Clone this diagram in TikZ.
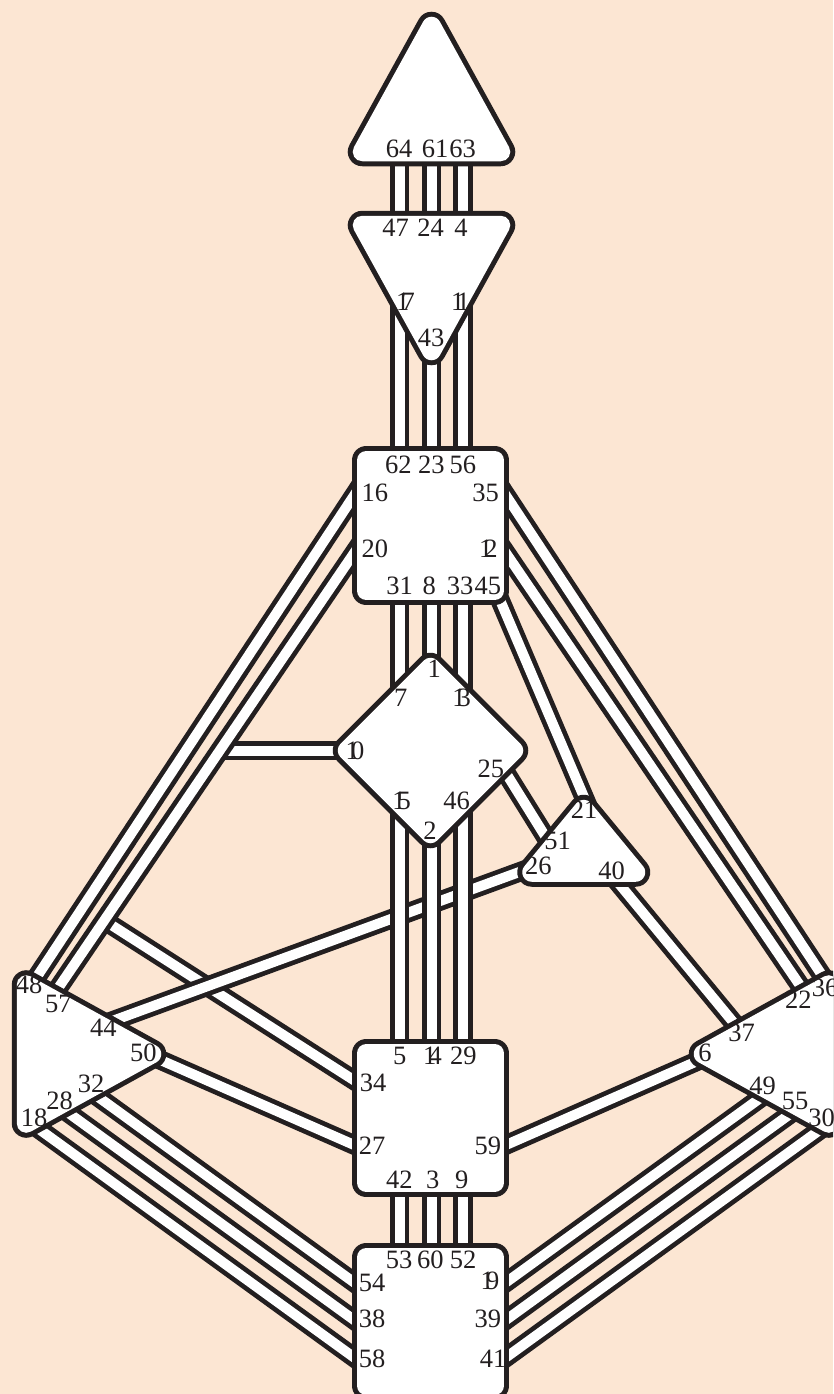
\documentclass[tikz,border=0pt]{standalone}
\usepackage{fontspec}
\setmainfont{Liberation Serif}
\definecolor{bg}{HTML}{FCE6D3}
\definecolor{ink}{HTML}{231F20}
\newcommand\gk{\kern-0.3em}
\newcommand\hdcenter[1]{\path[ctrout] #1; \path[ctrin] #1;}
\begin{document}
\begin{tikzpicture}[x=1pt,y=-1pt,
  ctrout/.style={fill=ink, draw=ink, line width=29pt, line join=round},
  ctrin/.style={fill=white, draw=white, line width=19pt, line join=round},
  chan/.style={draw=ink, line width=4.75pt, double=white, double distance=10pt},
  gate/.style={inner sep=0pt, text=ink, font=\fontsize{26.5}{26.5}\selectfont}]
\useasboundingbox (0,0) rectangle (833,1394);
\fill[bg] (0,0) rectangle (833,1394);
\clip (0,0) rectangle (833,1394);

% ---------- channel end points ----------
\coordinate (p64) at (399.5,140);  \coordinate (p47) at (399.5,235);
\coordinate (p61) at (431.5,140);  \coordinate (p24) at (431.5,235);
\coordinate (p63) at (463,140);    \coordinate (p4)  at (463,235);
\coordinate (p17) at (399.5,290);  \coordinate (p62) at (399.5,470);
\coordinate (p43) at (431.5,340);  \coordinate (p23) at (431.5,470);
\coordinate (p11) at (463,290);    \coordinate (p56) at (463,470);
\coordinate (p31) at (399.5,580);  \coordinate (p7)  at (399.5,715);
\coordinate (p8)  at (431.5,580);  \coordinate (p1)  at (431.5,700);
\coordinate (p33) at (463,580);    \coordinate (p13) at (463,715);
\coordinate (p15) at (399.5,785);  \coordinate (p5)  at (399.5,1060);
\coordinate (p2)  at (431.5,800);  \coordinate (p14) at (431.5,1060);
\coordinate (p46) at (463,785);    \coordinate (p29) at (463,1060);
\coordinate (p42) at (399.5,1175); \coordinate (p53) at (399.5,1265);
\coordinate (p3)  at (431.5,1175); \coordinate (p60) at (431.5,1265);
\coordinate (p9)  at (463,1175);   \coordinate (p52) at (463,1265);

\coordinate (p16) at (368.5,473.5);  \coordinate (p48) at (24.25,996);
\coordinate (p20) at (368.9,531.2);  \coordinate (p57) at (44,1009);
\coordinate (p10) at (360,750.5);    \coordinate (j10) at (219.7,750.5);
\coordinate (p34) at (370,1090.5);   \coordinate (j34) at (104.2,920.4);
\coordinate (p26) at (548,861.5);    \coordinate (p44) at (85,1031);
\coordinate (p50) at (140,1051);     \coordinate (p27) at (372,1152.8);
\coordinate (p32) at (75,1080.2);    \coordinate (p54) at (370,1294);
\coordinate (p28) at (50,1099.55);   \coordinate (p38) at (370,1331.55);
\coordinate (p18) at (28,1121.1);    \coordinate (p58) at (370,1369);

\coordinate (p35) at (491.5,473.5);  \coordinate (p36) at (833,992);
\coordinate (p12) at (491.1,531.2);  \coordinate (p22) at (813.3,1005);
\coordinate (p25) at (490.4,748);    \coordinate (p51) at (560,860);
\coordinate (p45) at (491.5,580);    \coordinate (p21) at (595.9,825);
\coordinate (p40) at (599.5,860);    \coordinate (p37) at (752,1045);
\coordinate (p59) at (490,1152);     \coordinate (p6)  at (715,1053.3);
\coordinate (p19) at (490,1294);     \coordinate (p49) at (783,1081.6);
\coordinate (p39) at (490,1331.55);  \coordinate (p55) at (808,1101);
\coordinate (p41) at (490,1369);     \coordinate (p30) at (832,1121.1);

% ---------- channels ----------
\draw[chan] (p10) -- (j10);
\draw[chan] (p34) -- (j34);
\draw[chan] (p26) -- (p44);
\draw[chan] (p16) -- (p48);
\draw[chan] (p20) -- (p57);
\draw[chan] (p50) -- (p27);
\draw[chan] (p32) -- (p54);
\draw[chan] (p28) -- (p38);
\draw[chan] (p18) -- (p58);

\draw[chan] (p64) -- (p47);
\draw[chan] (p61) -- (p24);
\draw[chan] (p63) -- (p4);
\draw[chan] (p17) -- (p62);
\draw[chan] (p43) -- (p23);
\draw[chan] (p11) -- (p56);
\draw[chan] (p31) -- (p7);
\draw[chan] (p8) -- (p1);
\draw[chan] (p33) -- (p13);
\draw[chan] (p15) -- (p5);
\draw[chan] (p2) -- (p14);
\draw[chan] (p46) -- (p29);
\draw[chan] (p42) -- (p53);
\draw[chan] (p3) -- (p60);
\draw[chan] (p9) -- (p52);

\draw[chan] (p35) -- (p36);
\draw[chan] (p12) -- (p22);
\draw[chan] (p25) -- (p51);
\draw[chan] (p45) -- (p21);
\draw[chan] (p40) -- (p37);
\draw[chan] (p59) -- (p6);
\draw[chan] (p19) -- (p49);
\draw[chan] (p39) -- (p55);
\draw[chan] (p41) -- (p30);

% ---------- centres ----------
\hdcenter{(431.5,26.25) -- (362.25,151.75) -- (500.75,151.75) -- cycle}
\hdcenter{(362.25,225.25) -- (500.75,225.25) -- (431.5,350.75) -- cycle}
\hdcenter{(366.25,460.25) rectangle (494.75,590.75)}
\hdcenter{(430.5,667.25) -- (513.75,750.5) -- (430.5,833.75) -- (347.25,750.5) -- cycle}
\hdcenter{(583.75,809.25) -- (635.75,872.25) -- (531.75,872.25) -- cycle}
\hdcenter{(26.25,984.75) -- (151.75,1054) -- (26.25,1123.25) -- cycle}
\hdcenter{(828.75,984.75) -- (703.25,1054) -- (828.75,1123.25) -- cycle}
\hdcenter{(366.25,1053.25) rectangle (494.75,1182.75)}
\hdcenter{(366.25,1257.25) rectangle (494.75,1385.75)}

% ---------- gate labels ----------
\node[gate] (l64) at (399,149) {64};
\node[gate] (l61) at (435,149) {61};
\node[gate] (l63) at (462.7,149) {63};
\node[gate] (l47) at (395.5,228) {47};
\node[gate] (l24) at (430.5,228) {24};
\node[gate] (l4)  at (461,228) {4};
\node[gate] (l17) at (405.5,301.7) {1\gk7};
\node[gate] (l11) at (460.5,301.7) {1\gk1};
\node[gate] (l43) at (431,338) {43};
\node[gate] (l62) at (398.3,465) {62};
\node[gate] (l23) at (431.3,465) {23};
\node[gate] (l56) at (462.8,465) {56};
\node[gate] (l16) at (374.8,492.5) {16};
\node[gate] (l35) at (485.5,492.5) {35};
\node[gate] (l20) at (374.8,549) {20};
\node[gate] (l12) at (488.3,549) {1\gk2};
\node[gate] (l31) at (399.5,585.8) {31};
\node[gate] (l8)  at (429.3,585.8) {8};
\node[gate] (l33) at (460,585.8) {33};
\node[gate] (l45) at (487.8,585.8) {45};
\node[gate] (l1)  at (434.2,669.2) {1};
\node[gate] (l7)  at (400.8,697.5) {7};
\node[gate] (l13) at (461.7,697.5) {1\gk3};
\node[gate] (l10) at (355,750.8) {1\gk0};
\node[gate] (l25) at (490.8,769.2) {25};
\node[gate] (l15) at (401.7,800.8) {1\gk5};
\node[gate] (l46) at (456.7,800.8) {46};
\node[gate] (l2)  at (430,830.8) {2};
\node[gate] (l21) at (584.2,810) {21};
\node[gate] (l51) at (557.5,840.8) {51};
\node[gate] (l26) at (538.3,865.8) {26};
\node[gate] (l40) at (611.7,870.8) {40};
\node[gate] (l48) at (29.2,985) {48};
\node[gate] (l57) at (58.3,1004.2) {57};
\node[gate] (l44) at (103.3,1027.5) {44};
\node[gate] (l50) at (143.3,1052.5) {50};
\node[gate] (l32) at (91.2,1084.2) {32};
\node[gate] (l28) at (59.7,1100.8) {28};
\node[gate] (l18) at (34.2,1117.5) {18};
\node[gate] (l36) at (825,988.3) {36};
\node[gate] (l22) at (798.3,1000) {22};
\node[gate] (l37) at (741.7,1032.5) {37};
\node[gate] (l6)  at (705,1053.3) {6};
\node[gate] (l49) at (762.7,1085.8) {49};
\node[gate] (l55) at (795,1100.8) {55};
\node[gate] (l30) at (821.7,1117.5) {30};
\node[gate] (l5)  at (399.7,1055.8) {5};
\node[gate] (l14) at (432.5,1055.8) {1\gk4};
\node[gate] (l29) at (463.3,1055.8) {29};
\node[gate] (l34) at (373,1082.5) {34};
\node[gate] (l27) at (372.2,1145.8) {27};
\node[gate] (l59) at (487.8,1145.8) {59};
\node[gate] (l42) at (399.3,1179.7) {42};
\node[gate] (l3)  at (432.7,1179.7) {3};
\node[gate] (l9)  at (461.7,1179.7) {9};
\node[gate] (l53) at (399.2,1259.5) {53};
\node[gate] (l60) at (430.3,1259.5) {60};
\node[gate] (l52) at (463,1259.5) {52};
\node[gate] (l54) at (372.2,1282.5) {54};
\node[gate] (l38) at (372.2,1319.2) {38};
\node[gate] (l58) at (372.2,1358.3) {58};
\node[gate] (l19) at (490,1280.8) {1\gk9};
\node[gate] (l39) at (487.8,1319.2) {39};
\node[gate] (l41) at (493,1359.2) {41};
\end{tikzpicture}
\end{document}
